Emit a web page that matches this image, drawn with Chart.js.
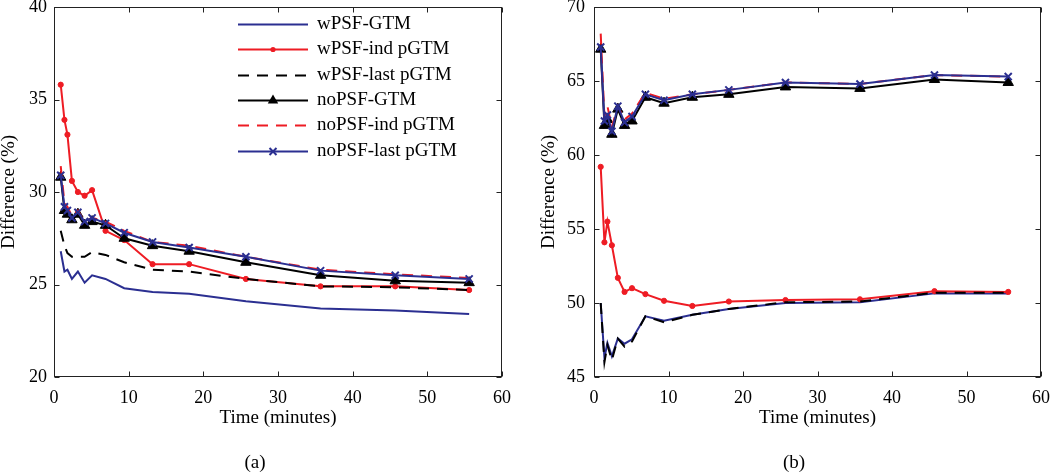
<!DOCTYPE html>
<html>
<head>
<meta charset="utf-8">
<script src="https://cdn.jsdelivr.net/npm/chart.js@4.4.1/dist/chart.umd.min.js"></script>
<style>
  html, body { margin: 0; padding: 0; background: #fff; }
  body { width: 1050px; height: 474px; position: relative; overflow: hidden; font-family: "Liberation Serif", serif; }
  .panel { position: absolute; top: 0; }
  .panel canvas { display: block; }
  .cap { position: absolute; top: 452px; font-size: 19px; line-height: 20px; color: #000; transform: translateX(-50%); }
</style>
</head>
<body>
<div class="panel" style="left:0px"><canvas id="chartA" width="525" height="474"></canvas></div>
<div class="panel" style="left:540px"><canvas id="chartB" width="510" height="474"></canvas></div>
<div class="cap" style="left:255px">(a)</div>
<div class="cap" style="left:794px">(b)</div>
<script>
// time points (minutes), shared by both panels
var timeMin = [0.9, 1.4, 1.8, 2.4, 3.2, 4.1, 5.1, 6.9, 9.4, 13.2, 18.1, 25.7, 35.7, 45.7, 55.6];

var seriesNames = ['wPSF-GTM', 'wPSF-ind pGTM', 'wPSF-last pGTM', 'noPSF-GTM', 'noPSF-ind pGTM', 'noPSF-last pGTM'];

var xTicks = [0, 10, 20, 30, 40, 50, 60];
var yTicksA = [20, 25, 30, 35, 40];
var yTicksB = [45, 50, 55, 60, 65, 70];

// panel (a)
var aWpsfGtm   = [26.8, 25.7, 25.8, 25.3, 25.7, 25.1, 25.5, 25.3, 24.8, 24.6, 24.5, 24.1, 23.7, 23.6, 23.4];
var aWpsfInd   = [35.8, 33.9, 33.1, 30.6, 30.0, 29.8, 30.1, 27.9, 27.4, 26.1, 26.1, 25.3, 24.9, 24.9, 24.7];
var aWpsfLast  = [27.9, 27.1, 26.7, 26.5, 26.5, 26.5, 26.75, 26.6, 26.2, 25.8, 25.7, 25.3, 24.9, 24.85, 24.7];
var aNopsfGtm  = [30.8, 29.0, 28.8, 28.5, 28.8, 28.2, 28.4, 28.2, 27.5, 27.1, 26.8, 26.2, 25.5, 25.2, 25.1];
var aNopsfInd  = [31.4, 29.4, 29.2, 28.7, 29.0, 28.4, 28.6, 28.4, 27.9, 27.3, 27.1, 26.5, 25.8, 25.55, 25.35];
var aNopsfLast = [30.9, 29.2, 29.0, 28.6, 28.9, 28.4, 28.6, 28.3, 27.8, 27.3, 27.0, 26.5, 25.75, 25.5, 25.3];

// panel (b)
var bWpsfGtm   = [50.0, 46.3, 47.3, 46.4, 47.6, 47.25, 47.55, 49.1, 48.8, 49.2, 49.6, 50.0, 50.05, 50.65, 50.65];
var bWpsfInd   = [59.2, 54.1, 55.5, 53.9, 51.7, 50.75, 51.0, 50.6, 50.15, 49.8, 50.1, 50.2, 50.25, 50.8, 50.75];
var bWpsfLast  = [50.0, 46.0, 47.15, 46.15, 47.6, 47.05, 47.4, 49.1, 48.7, 49.2, 49.6, 50.05, 50.1, 50.7, 50.7];
var bNopsfGtm  = [67.15, 62.0, 62.4, 61.4, 63.1, 62.0, 62.3, 63.9, 63.5, 63.9, 64.1, 64.6, 64.5, 65.1, 64.9];
var bNopsfInd  = [68.2, 62.6, 63.3, 61.9, 63.3, 62.4, 62.8, 64.2, 63.8, 64.1, 64.4, 64.9, 64.8, 65.4, 65.3];
var bNopsfLast = [67.3, 62.3, 62.7, 61.6, 63.3, 62.2, 62.6, 64.1, 63.7, 64.1, 64.4, 64.9, 64.8, 65.4, 65.3];

var FONT = 'Liberation Serif';
var BLUE = '#2b2f91', RED = '#ee1c24', BLACK = '#000000';
var DASH = [11, 8];

Chart.defaults.font.family = FONT;
Chart.defaults.color = '#000';

var lineStyles = [
  { color: BLUE,  dash: [],   marker: 'none',     radius: 0 },
  { color: RED,   dash: [],   marker: 'circle',   radius: 2.6 },
  { color: BLACK, dash: DASH, marker: 'none',     radius: 0 },
  { color: BLACK, dash: [],   marker: 'triangle', radius: 6 },
  { color: RED,   dash: DASH, marker: 'none',     radius: 0 },
  { color: BLUE,  dash: [],   marker: 'crossRot', radius: 5 }
];

function makeDatasets(seriesList) {
  return seriesList.map(function (vals, i) {
    var st = lineStyles[i];
    return {
      label: seriesNames[i],
      data: vals.map(function (v, k) { return { x: timeMin[k], y: v }; }),
      borderColor: st.color,
      borderWidth: 2,
      borderDash: st.dash,
      tension: 0,
      fill: false,
      pointStyle: st.marker === 'none' ? 'circle' : st.marker,
      pointRadius: st.radius,
      pointBackgroundColor: st.color,
      pointBorderColor: st.color,
      pointBorderWidth: st.marker === 'crossRot' ? 2 : 1,
      order: seriesNames.length - i   // later series on top, like the original
    };
  });
}

// box around the plot with inward ticks on all four sides
var framePlugin = {
  id: 'frame',
  beforeDatasetsDraw: function (chart) {
    var a = chart.chartArea, ctx = chart.ctx;
    var xs = chart.scales.x, ys = chart.scales.y;
    var L = Math.round(a.left) + 0.5, R = Math.round(a.right) - 0.5;
    var T = Math.round(a.top) + 0.5, B = Math.round(a.bottom) - 0.5;
    ctx.save();
    ctx.strokeStyle = '#222';
    ctx.lineWidth = 1;
    ctx.strokeRect(L, T, R - L, B - T);
    ctx.beginPath();
    xs.ticks.forEach(function (t) {
      var px = Math.round(xs.getPixelForValue(t.value)) + 0.5;
      ctx.moveTo(px, B); ctx.lineTo(px, B - 5);
      ctx.moveTo(px, T); ctx.lineTo(px, T + 5);
    });
    ys.ticks.forEach(function (t) {
      var py = Math.round(ys.getPixelForValue(t.value)) + 0.5;
      ctx.moveTo(L, py); ctx.lineTo(L + 5, py);
      ctx.moveTo(R, py); ctx.lineTo(R - 5, py);
    });
    ctx.stroke();
    ctx.restore();
  }
};

function drawMarker(ctx, kind, x, y, r, color) {
  ctx.save();
  ctx.fillStyle = color; ctx.strokeStyle = color; ctx.setLineDash([]);
  if (kind === 'circle') {
    ctx.beginPath(); ctx.arc(x, y, r, 0, Math.PI * 2); ctx.fill();
  } else if (kind === 'triangle') {
    ctx.beginPath();
    ctx.moveTo(x, y - r); ctx.lineTo(x + r * 0.87, y + r * 0.5); ctx.lineTo(x - r * 0.87, y + r * 0.5);
    ctx.closePath(); ctx.fill();
  } else if (kind === 'crossRot') {
    ctx.lineWidth = 2; ctx.beginPath();
    ctx.moveTo(x - r * 0.7, y - r * 0.7); ctx.lineTo(x + r * 0.7, y + r * 0.7);
    ctx.moveTo(x + r * 0.7, y - r * 0.7); ctx.lineTo(x - r * 0.7, y + r * 0.7);
    ctx.stroke();
  }
  ctx.restore();
}

// legend drawn inside panel (a), matlab style
var legendPlugin = {
  id: 'innerLegend',
  afterDraw: function (chart) {
    var ctx = chart.ctx;
    var x0 = 238, x1 = 308, tx = 317, y0 = 24, dy = 25.3;
    ctx.save();
    ctx.font = '19px "' + FONT + '"';
    ctx.textBaseline = 'middle';
    ctx.fillStyle = '#000';
    seriesNames.forEach(function (name, i) {
      var st = lineStyles[i];
      var y = Math.round(y0 + i * dy) + 0.5;
      ctx.save();
      ctx.strokeStyle = st.color; ctx.lineWidth = 2; ctx.setLineDash(st.dash);
      ctx.beginPath(); ctx.moveTo(x0, y); ctx.lineTo(x1, y); ctx.stroke();
      ctx.restore();
      if (st.marker !== 'none') drawMarker(ctx, st.marker, (x0 + x1) / 2, y, st.radius, st.color);
      ctx.fillText(name, tx, y);
    });
    ctx.restore();
  }
};

function makeOptions(yTicks, yPad, rightPad) {
  return {
    responsive: false,
    animation: false,
    layout: { padding: { left: 0, right: rightPad, top: 6, bottom: 46 } },
    plugins: { legend: { display: false }, tooltip: { enabled: false } },
    scales: {
      x: {
        type: 'linear', min: xTicks[0], max: xTicks[xTicks.length - 1],
        afterBuildTicks: function (s) { s.ticks = xTicks.map(function (v) { return { value: v }; }); },
        ticks: { padding: 10, maxRotation: 0, font: { size: 18 }, color: '#000' },
        grid: { display: false, drawTicks: false },
        border: { display: false },
        title: { display: true, text: 'Time (minutes)', padding: 0, font: { size: 19, lineHeight: 1 }, color: '#000' },
        afterFit: function (s) { s.height = 51; s.paddingLeft = 0; s.paddingRight = 0; }
      },
      y: {
        type: 'linear', min: yTicks[0], max: yTicks[yTicks.length - 1],
        afterBuildTicks: function (s) { s.ticks = yTicks.map(function (v) { return { value: v }; }); },
        ticks: { padding: yPad, font: { size: 18 }, color: '#000' },
        grid: { display: false, drawTicks: false },
        border: { display: false },
        title: { display: true, text: 'Difference (%)', padding: 0, font: { size: 19, lineHeight: 1 }, color: '#000' },
        afterFit: function (s) { s.width = 54; s.paddingTop = 0; s.paddingBottom = 0; }
      }
    }
  };
}

new Chart(document.getElementById('chartA'), {
  type: 'line',
  data: { datasets: makeDatasets([aWpsfGtm, aWpsfInd, aWpsfLast, aNopsfGtm, aNopsfInd, aNopsfLast]) },
  options: makeOptions(yTicksA, 7, 23),
  plugins: [framePlugin, legendPlugin]
});

new Chart(document.getElementById('chartB'), {
  type: 'line',
  data: { datasets: makeDatasets([bWpsfGtm, bWpsfInd, bWpsfLast, bNopsfGtm, bNopsfInd, bNopsfLast]) },
  options: makeOptions(yTicksB, 9, 9),
  plugins: [framePlugin]
});
</script>
</body>
</html>
